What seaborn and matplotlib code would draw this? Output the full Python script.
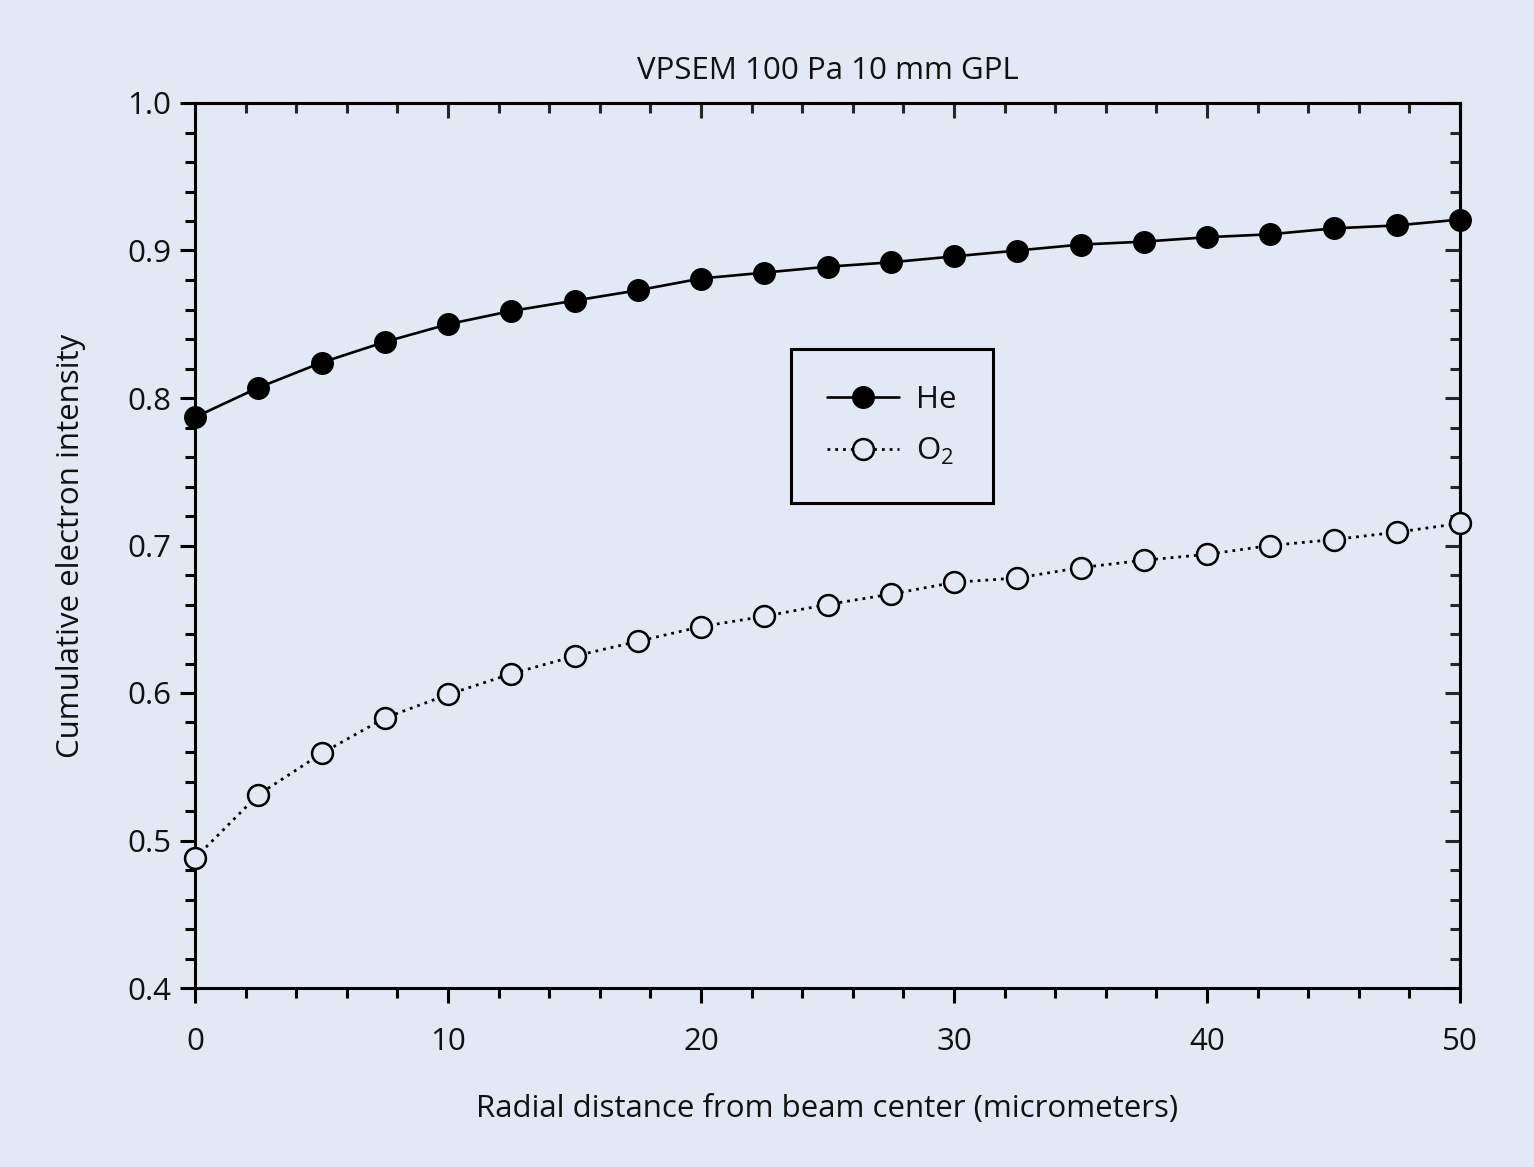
import numpy as np
import pandas as pd
import matplotlib
matplotlib.use("Agg")
import matplotlib.pyplot as plt
import seaborn as sns
from matplotlib.ticker import MultipleLocator

# ---- data ----
radius = [0, 2.5, 5, 7.5, 10, 12.5, 15, 17.5, 20, 22.5, 25, 27.5, 30, 32.5, 35,
          37.5, 40, 42.5, 45, 47.5, 50]
he_vals = [0.787, 0.807, 0.824, 0.838, 0.850, 0.859, 0.866, 0.873, 0.881, 0.885,
           0.889, 0.892, 0.896, 0.900, 0.904, 0.906, 0.909, 0.911, 0.915, 0.917, 0.921]
o2_vals = [0.488, 0.531, 0.559, 0.583, 0.599, 0.613, 0.625, 0.635, 0.645, 0.652,
           0.660, 0.667, 0.675, 0.678, 0.685, 0.690, 0.694, 0.700, 0.704, 0.709, 0.715]
series_labels = ["He", "O$_2$"]
title = "VPSEM 100 Pa 10 mm GPL"
xlabel = "Radial distance from beam center (micrometers)"
ylabel = "Cumulative electron intensity"

BG = "#e3e8f5"
FONT = ["Open Sans", "DejaVu Sans"]

sns.set_theme(style="ticks")
plt.rcParams["font.family"] = FONT
plt.rcParams["mathtext.fontset"] = "custom"
plt.rcParams["mathtext.rm"] = "Open Sans"
plt.rcParams["mathtext.it"] = "Open Sans"

fig = plt.figure(figsize=(15.34, 11.67), dpi=100, facecolor=BG)
ax = fig.add_axes([195/1534, 1-988/1167, (1460-195)/1534, (988-103)/1167])
ax.set_facecolor(BG)

df = pd.DataFrame({"r": radius, "he": he_vals, "o2": o2_vals})

sns.lineplot(data=df, x="r", y="he", ax=ax, color="black", linewidth=1.9,
             marker="o", markersize=15.5, markerfacecolor="black",
             markeredgecolor="black", markeredgewidth=1.0, label=series_labels[0],
             clip_on=False, zorder=5)
sns.lineplot(data=df, x="r", y="o2", ax=ax, color="black", linewidth=2.0,
             linestyle=(0, (1.0, 1.8)),
             marker="o", markersize=15, markerfacecolor=BG,
             markeredgecolor="black", markeredgewidth=1.8, label=series_labels[1],
             clip_on=False, zorder=5)

ax.set_xlim(0, 50)
ax.set_ylim(0.4, 1.0)
ax.xaxis.set_major_locator(MultipleLocator(10))
ax.xaxis.set_minor_locator(MultipleLocator(2))
ax.yaxis.set_major_locator(MultipleLocator(0.1))
ax.yaxis.set_minor_locator(MultipleLocator(0.02))
ax.yaxis.set_major_formatter(matplotlib.ticker.FormatStrFormatter("%.1f"))

for s in ax.spines.values():
    s.set_linewidth(2.2)
    s.set_color("black")
    s.set_visible(True)

fs = 22.5
ax.tick_params(which="major", direction="out", length=11, width=2.2,
               labelsize=fs, color="black", labelcolor="#111111")
ax.tick_params(which="minor", direction="out", length=7, width=2.2, color="black")
ax.tick_params(axis="x", which="major", pad=17)
ax.tick_params(axis="y", which="major", pad=6)

# top and right inward ticks
secx = ax.secondary_xaxis("top")
secx.xaxis.set_major_locator(MultipleLocator(10))
secx.xaxis.set_minor_locator(MultipleLocator(2))
secx.tick_params(which="major", direction="in", length=11, width=2.2, labeltop=False)
secx.tick_params(which="minor", direction="in", length=7, width=2.2)
secx.spines["top"].set_linewidth(2.2)
secy = ax.secondary_yaxis("right")
secy.yaxis.set_major_locator(MultipleLocator(0.1))
secy.yaxis.set_minor_locator(MultipleLocator(0.02))
secy.tick_params(which="major", direction="in", length=11, width=2.2, labelright=False)
secy.tick_params(which="minor", direction="in", length=7, width=2.2)
secy.spines["right"].set_linewidth(2.2)

ax.set_title(title, fontsize=fs, pad=17, color="#111111")
ax.set_xlabel(xlabel, fontsize=fs, labelpad=27, color="#111111")
ax.set_ylabel(ylabel, fontsize=fs, labelpad=30, color="#111111")

leg = ax.legend(loc="center", bbox_to_anchor=(0.551, 0.635), fontsize=fs,
                frameon=True, fancybox=False, facecolor=BG, framealpha=1,
                edgecolor="black", borderpad=1.15, labelspacing=0.65,
                handlelength=2.3, handletextpad=0.55, borderaxespad=0)
leg.get_frame().set_linewidth(2.2)
for t in leg.get_texts():
    t.set_color("#111111")

fig.savefig("out.png", dpi=100, facecolor=BG)
